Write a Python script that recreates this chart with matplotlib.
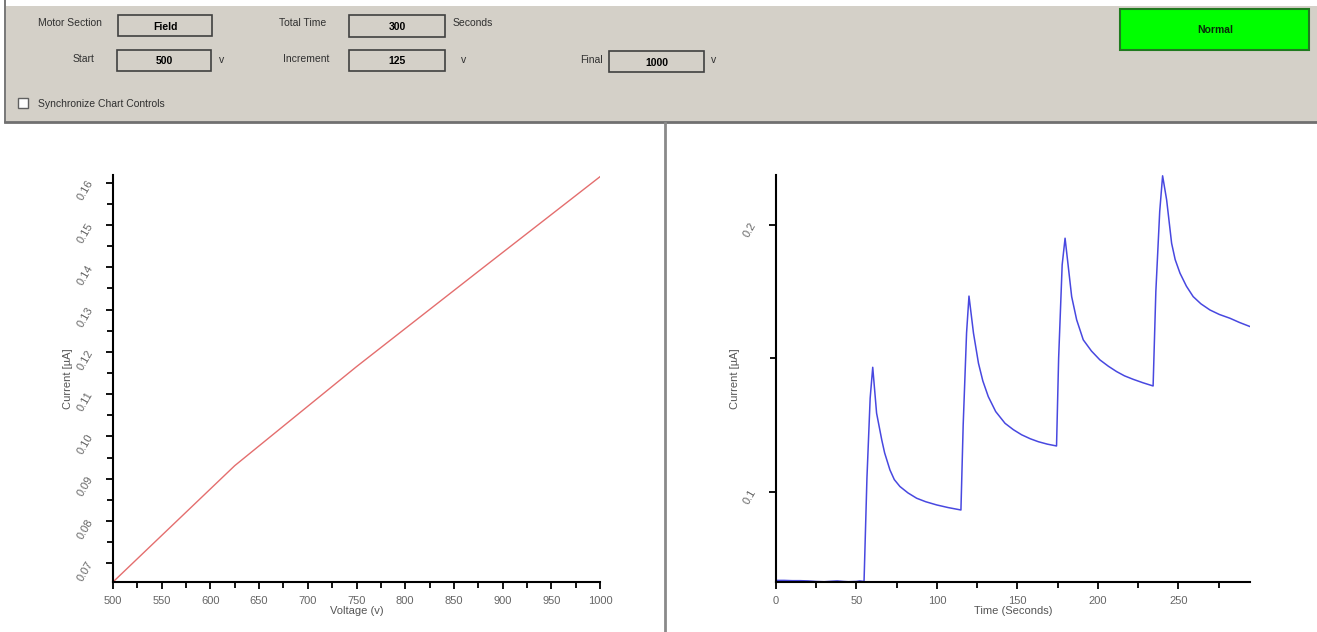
import matplotlib.pyplot as plt
from matplotlib.patches import Rectangle
from matplotlib.ticker import MultipleLocator, FixedLocator, FixedFormatter

plt.rcParams['font.family'] = ['Liberation Sans', 'DejaVu Sans']

# Field sweep: current vs. voltage steps (Start 500 v, Increment 125 v, Final 1000 v)
voltage = [500, 625, 750, 875, 1000]
current_v = [0.0656, 0.0931, 0.1165, 0.1390, 0.1614]

# Current vs. time over the 300 s run
time_s = [0, 5, 10, 15, 20, 25, 30, 35, 38, 42, 45, 50, 52, 54.7,
          56.5, 58.5, 60.1, 62.5, 65.7, 67.5, 70.8, 73.5, 77.0, 82.0, 87.4, 93.0, 99.8, 107.0, 114.9,
          116.3, 118.4, 119.9, 122.7, 125.8, 128.5, 131.9, 136.5, 142.3, 147.5, 152.6, 158.0, 163.0,
          168.5, 174.3,
          175.6, 177.8, 179.6, 183.7, 186.8, 190.9, 196.0, 201.2, 206.5, 211.6, 216.5, 221.9, 228.0,
          234.3,
          236.0, 238.4, 240.2, 242.7, 245.8, 248.0, 251.0, 255.0, 259.2, 264.0, 269.6, 275.5, 282.0,
          288.0, 294.4]
current_t = [0.0667, 0.0667, 0.0666, 0.0666, 0.0665, 0.0663, 0.0662, 0.0664, 0.0665, 0.0663, 0.0662, 0.0663, 0.0665, 0.0663,
             0.1050, 0.1350, 0.1466, 0.1294, 0.1194, 0.1145, 0.1081, 0.1045, 0.1019, 0.0995, 0.0975, 0.0962, 0.0950, 0.0940, 0.0931,
             0.1250, 0.1595, 0.1733, 0.1594, 0.1481, 0.1415, 0.1356, 0.1300, 0.1256, 0.1232, 0.1213, 0.1198, 0.1187,
             0.1178, 0.1171,
             0.1500, 0.1850, 0.1950, 0.1731, 0.1644, 0.1569, 0.1527, 0.1494, 0.1470, 0.1450, 0.1434, 0.1421, 0.1408,
             0.1396,
             0.1750, 0.2050, 0.2184, 0.2094, 0.1931, 0.1870, 0.1819, 0.1770, 0.1731, 0.1704, 0.1681, 0.1664, 0.1650,
             0.1634, 0.1619]

W, H = 1317, 632
fig = plt.figure(figsize=(W / 100, H / 100), dpi=100)
fig.patch.set_facecolor('white')

# window chrome in pixel coordinates
bg = fig.add_axes([0, 0, 1, 1], zorder=-1)
bg.set_xlim(0, W)
bg.set_ylim(H, 0)
bg.axis('off')

panel = '#D4D0C8'
bg.add_patch(Rectangle((6, 6), W - 6, 116, facecolor=panel, edgecolor='none'))
bg.plot([5, 5], [0, 122], color='#606060', lw=1.2)
bg.plot([5, W], [122, 122], color='#707070', lw=2)
bg.plot([665, 665], [123, H], color='#8a8a8a', lw=2)

ui = dict(fontsize=7.5, color='#303030', va='center')
val = dict(fontsize=7.5, color='black', fontweight='bold', ha='center', va='center')


def field_box(x0, y0, x1, y1, text):
    bg.add_patch(Rectangle((x0, y0), x1 - x0, y1 - y0, facecolor=panel,
                           edgecolor='#404040', lw=1.2))
    bg.text((x0 + x1) / 2, (y0 + y1) / 2 + 1, text, **val)


bg.text(38, 23, 'Motor Section', **ui)
field_box(118, 15, 212, 36, 'Field')
bg.text(279, 23, 'Total Time', **ui)
field_box(349, 15, 445, 37, '300')
bg.text(453, 23, 'Seconds', **ui)

bg.text(73, 59, 'Start', **ui)
field_box(117, 50, 211, 71, '500')
bg.text(219, 60, 'v', **ui)
bg.text(283, 59, 'Increment', **ui)
field_box(349, 50, 445, 71, '125')
bg.text(461, 60, 'v', **ui)
bg.text(580, 60, 'Final', **ui)
field_box(609, 51, 704, 72, '1000')
bg.text(711, 60, 'v', **ui)

bg.add_patch(Rectangle((18, 98), 10, 10, facecolor='white', edgecolor='#606060', lw=1))
bg.text(38, 104, 'Synchronize Chart Controls', **ui)

bg.add_patch(Rectangle((1120, 9), 189, 41, facecolor='#00FF00', edgecolor='#1f7a1f', lw=1.5))
bg.text(1215, 30, 'Normal', fontsize=7.5, fontweight='bold', color='#0a2a0a',
        ha='center', va='center')


def style_axes(ax):
    for side in ('top', 'right'):
        ax.spines[side].set_visible(False)
    for side in ('left', 'bottom'):
        ax.spines[side].set_linewidth(1.5)
        ax.spines[side].set_color('black')
    ax.tick_params(which='both', direction='out', width=1.3, color='black',
                   labelcolor='#666666', labelsize=8)
    ax.tick_params(which='major', length=5)
    ax.tick_params(which='minor', length=4)
    ax.tick_params(axis='x', which='major', pad=5)
    ax.tick_params(axis='y', which='major', pad=8)


# left chart: current vs voltage
ax1 = fig.add_axes([113 / W, 1 - 582 / H, 487 / W, 407 / H])
ax1.plot(voltage, current_v, color='#E46E6E', lw=1)
ax1.set_xlim(500, 1000)
ax1.set_ylim(0.0656, 0.1618)
ax1.xaxis.set_major_locator(MultipleLocator(50))
ax1.xaxis.set_minor_locator(MultipleLocator(25))
yt = [0.07 + 0.01 * i for i in range(10)]
ax1.yaxis.set_major_locator(FixedLocator(yt))
ax1.yaxis.set_major_formatter(FixedFormatter(['%.2f' % v for v in yt]))
ax1.yaxis.set_minor_locator(MultipleLocator(0.005))
style_axes(ax1)
for lab in ax1.get_yticklabels():
    lab.set_rotation(60)
ax1.set_xlabel('Voltage (v)', fontsize=8, color='#555555', labelpad=0)
ax1.set_ylabel('Current [µA]', fontsize=8, color='#555555', labelpad=2)

# right chart: current vs time
ax2 = fig.add_axes([776 / W, 1 - 582 / H, 474 / W, 407 / H])
ax2.plot(time_s, current_t, color='#4848E0', lw=1.1)
ax2.set_xlim(0, 294.5)
ax2.set_ylim(0.0661, 0.2187)
ax2.xaxis.set_major_locator(MultipleLocator(50))
ax2.xaxis.set_minor_locator(MultipleLocator(25))
ax2.yaxis.set_major_locator(FixedLocator([0.1, 0.2]))
ax2.yaxis.set_major_formatter(FixedFormatter(['0.1', '0.2']))
ax2.yaxis.set_minor_locator(FixedLocator([0.15]))
style_axes(ax2)
for lab in ax2.get_yticklabels():
    lab.set_rotation(60)
ax2.set_xlabel('Time (Seconds)', fontsize=8, color='#555555', labelpad=0)
ax2.set_ylabel('Current [µA]', fontsize=8, color='#555555', labelpad=1)

fig.savefig('out.png', dpi=100)
